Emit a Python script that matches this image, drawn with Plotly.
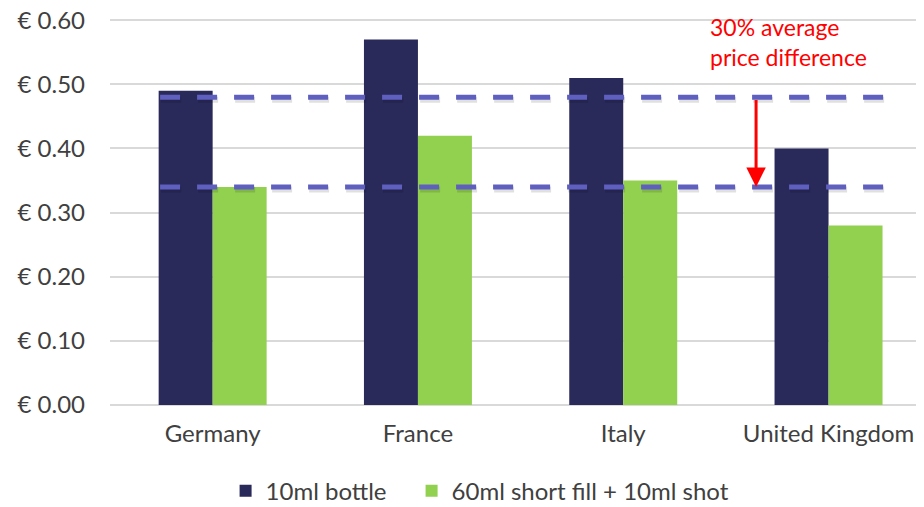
import plotly.graph_objects as go

countries = ["Germany", "France", "Italy", "United Kingdom"]
bottle_10ml = [0.49, 0.57, 0.51, 0.40]
shortfill_60ml = [0.34, 0.42, 0.35, 0.28]
avg_levels = [0.48, 0.34]
y_ticks = [0.0, 0.1, 0.2, 0.3, 0.4, 0.5, 0.6]
y_tick_text = ["€ 0.00", "€ 0.10", "€ 0.20", "€ 0.30", "€ 0.40", "€ 0.50", "€ 0.60"]

NAVY = "#29295a"
GREEN = "#92d050"
DASH = "#5f5fbf"
TXT = "#404040"
FONT = "Lato"

fig = go.Figure()
fig.add_trace(go.Bar(x=countries, y=bottle_10ml, name="10ml bottle",
                     marker=dict(color=NAVY, line=dict(width=0)), legend="legend"))
fig.add_trace(go.Bar(x=countries, y=shortfill_60ml, name="60ml short fill + 10ml shot",
                     marker=dict(color=GREEN, line=dict(width=0)), legend="legend2"))

x0, x1 = -0.256, 3.30
for lvl in avg_levels:
    fig.add_shape(type="line", xref="x", yref="y", x0=x0 + 0.005, x1=x1 + 0.005,
                  y0=lvl - 0.004, y1=lvl - 0.004,
                  line=dict(color="rgba(0,0,0,0.12)", width=6, dash="20px,17px"))
    fig.add_shape(type="line", xref="x", yref="y", x0=x0, x1=x1, y0=lvl, y1=lvl,
                  line=dict(color=DASH, width=5, dash="20px,17px"))

arrow_x = 2.647
fig.add_annotation(x=arrow_x, y=avg_levels[1], ax=arrow_x, ay=avg_levels[0] - 0.002,
                   xref="x", yref="y", axref="x", ayref="y", text="",
                   showarrow=True, arrowhead=2, arrowsize=1.3, arrowwidth=3,
                   arrowcolor="#ff0000")
fig.add_annotation(x=2.413, y=1.0142, xref="x", yref="paper", xanchor="left", yanchor="top",
                   text="30% average<br>price difference", showarrow=False, align="left",
                   font=dict(family=FONT, size=23, color="#ff0000"))

legend_style = dict(orientation="h", xanchor="left", y=-0.222, yanchor="middle",
                    font=dict(family=FONT, size=24, color=TXT), itemwidth=30,
                    bgcolor="rgba(0,0,0,0)")

# page body has an 8px margin, so the figure is drawn 8px in from the top-left
fig.update_layout(
    width=916, height=499,
    margin=dict(l=102, r=0, t=9, b=102, autoexpand=False),
    paper_bgcolor="white", plot_bgcolor="white",
    barmode="group", bargap=0.474, bargroupgap=0,
    font=dict(family=FONT, size=22, color=TXT),
    showlegend=True,
    legend=dict(x=0.142, **legend_style),
    legend2=dict(x=0.3705, **legend_style),
)
fig.update_xaxes(range=[-0.5, 3.465], showgrid=False, showline=False, ticks="",
                 automargin=False,
                 tickfont=dict(family=FONT, size=24, color=TXT), ticklabelstandoff=12)
fig.update_yaxes(range=[0, 0.605], tickvals=y_ticks, ticktext=y_tick_text,
                 automargin=False, ticklabeloverflow="allow",
                 showgrid=True, gridcolor="#d9d9d9", gridwidth=1.5, zeroline=True,
                 zerolinecolor="#d9d9d9", zerolinewidth=1.5, showline=False,
                 tickfont=dict(family=FONT, size=24, color=TXT), ticklabelstandoff=24)

fig.write_html("out.html")
